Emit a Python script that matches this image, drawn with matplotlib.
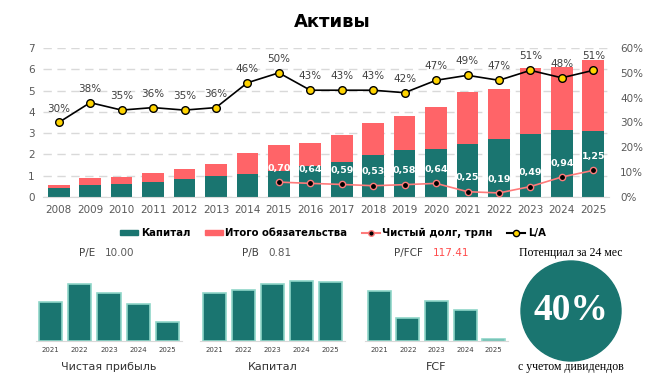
import numpy as np
import matplotlib
matplotlib.use("Agg")
import matplotlib.pyplot as plt
from matplotlib.patches import Patch, Circle
from matplotlib.lines import Line2D

TEAL, RED, GRID, TXT = "#1a7570", "#ff6468", "#d9d9d9", "#595959"
W, H = 664, 391

years = [str(y) for y in range(2008, 2026)]
capital = [0.40, 0.55, 0.63, 0.71, 0.83, 0.99, 1.10, 1.23, 1.45, 1.65, 1.97,
           2.20, 2.25, 2.50, 2.71, 2.96, 3.13, 3.10]
total = [0.55, 0.87, 0.94, 1.13, 1.31, 1.54, 2.06, 2.44, 2.52, 2.91, 3.49,
         3.81, 4.22, 4.95, 5.09, 6.04, 6.10, 6.42]
la_pct = [30, 38, 35, 36, 35, 36, 46, 50, 43, 43, 43, 42, 47, 49, 47, 51, 48, 51]
nd_years = years[7:]
net_debt = [0.70, 0.64, 0.59, 0.53, 0.58, 0.64, 0.25, 0.19, 0.49, 0.94, 1.25]

small_years = ["2021", "2022", "2023", "2024", "2025"]
net_profit = [39, 57, 48, 37, 19]
equity = [48, 51, 57, 60, 59]
fcf = [50, 23, 40, 31, 2]

plt.rcParams["font.family"] = ["DejaVu Sans"]
fig = plt.figure(figsize=(W / 100, H / 100), dpi=100)


def fx(px):
    return px / W


def fy(py):
    return 1 - py / H


# main chart
ax = fig.add_axes([fx(43), fy(197), fx(609 - 43), (197 - 48) / H])
x = np.arange(len(years))
liab = np.array(total) - np.array(capital)
ax.bar(x, capital, 0.69, color=TEAL, zorder=2)
ax.bar(x, liab, 0.69, bottom=capital, color=RED, zorder=2)
ax.set_xlim(-0.5, len(years) - 0.5)
ax.set_ylim(0, 7)
ax.set_yticks(range(8))
ax.set_xticks(x, years)
ax.yaxis.grid(True, ls=(0, (6, 4)), color=GRID, lw=1)
ax.set_axisbelow(True)
for s in ["top", "right", "left"]:
    ax.spines[s].set_visible(False)
ax.spines["bottom"].set_color(GRID)
ax.tick_params(length=0, labelsize=7.5, colors=TXT, pad=6)

nd_x = [years.index(y) for y in nd_years]
ax.plot(nd_x, net_debt, color="#ff7b7b", lw=1.2, marker="o", ms=4.5,
        mfc="black", mec="#ff7b7b", mew=1, zorder=4)
for xi, v in zip(nd_x, net_debt):
    ax.annotate(f"{v:.2f}".replace(".", ","), (xi, v), xytext=(0, 10),
                textcoords="offset points", ha="center", va="center",
                color="white", fontsize=6.8, fontweight="bold", zorder=5)

ax2 = ax.twinx()
ax2.set_ylim(0, 60)
ax2.set_yticks(range(0, 61, 10), [f"{v}%" for v in range(0, 61, 10)])
ax2.tick_params(length=0, labelsize=7.5, colors=TXT, pad=8)
for s in ax2.spines.values():
    s.set_visible(False)
ax2.plot(x, la_pct, color="black", lw=1.2, marker="o", ms=5.5,
         mfc="#ffd400", mec="black", mew=1, zorder=4)
for xi, v in zip(x, la_pct):
    ax2.annotate(f"{v}%", (xi, v), xytext=(0, 10), textcoords="offset points",
                 ha="center", va="center", color="#404040", fontsize=7.5)

fig.text(0.5, fy(22), "Активы", ha="center", va="center",
         fontsize=13, fontweight="bold", color="black")

handles = [Patch(color=TEAL), Patch(color=RED),
           Line2D([], [], color="#ff7b7b", marker="o", mfc="black", mec="#ff7b7b", ms=4),
           Line2D([], [], color="black", marker="o", mfc="#ffd400", mec="black", ms=4.5)]
labels = ["Капитал", "Итого обязательства", "Чистый долг, трлн", "L/A"]
fig.legend(handles, labels, loc="center", bbox_to_anchor=(fx(333), fy(233)),
           ncol=4, frameon=False, handlelength=1.8, handleheight=0.5,
           columnspacing=1.4, handletextpad=0.25,
           prop={"weight": "bold", "size": 7.3})

# small charts
panels = [(36, 146, net_profit, "Чистая прибыль", "P/E", "10.00", TXT),
          (200, 145, equity, "Капитал", "P/B", "0.81", TXT),
          (365, 143, fcf, "FCF", "P/FCF", "117.41", "#ff4d4d")]
for left, width, vals, name, mult, mval, mcol in panels:
    a = fig.add_axes([fx(left), fy(341), fx(width), 62 / H])
    a.bar(range(5), vals, 0.8, color=TEAL, edgecolor="#8fd6c8", lw=1.2)
    a.set_xlim(-0.5, 4.5)
    a.set_ylim(0, 62)
    a.set_yticks([])
    a.set_xticks(range(5), small_years)
    a.tick_params(length=0, labelsize=5, colors="#404040", pad=4)
    for s in ["top", "right", "left"]:
        a.spines[s].set_visible(False)
    a.spines["bottom"].set_color(GRID)
    cx = left + width / 2
    fig.text(fx(cx), fy(367), name, ha="center", va="center", fontsize=8, color="#333333")
    fig.text(fx(cx - 4), fy(253), mult + "   ", ha="right", va="center", fontsize=7.5, color="#404040")
    fig.text(fx(cx - 4), fy(253), mval, ha="left", va="center", fontsize=7.5, color=mcol)

# potential circle
ac = fig.add_axes([fx(571 - 60), fy(311 + 60), fx(120), 120 / H])
ac.set_xlim(-60, 60)
ac.set_ylim(-60, 60)
ac.set_aspect("equal")
ac.axis("off")
ac.add_patch(Circle((0, 0), 50, color=TEAL))
ac.text(0, 0, "40%", ha="center", va="center", color="white", fontsize=27,
        fontweight="bold", family="Liberation Serif")
fig.text(fx(571), fy(253), "Потенциал за 24 мес", ha="center", va="center",
         fontsize=8.5, family="Liberation Serif", color="black")
fig.text(fx(571), fy(367), "с учетом дивидендов", ha="center", va="center",
         fontsize=8.5, family="Liberation Serif", color="black")

fig.savefig("out.png", dpi=100, facecolor="white")
